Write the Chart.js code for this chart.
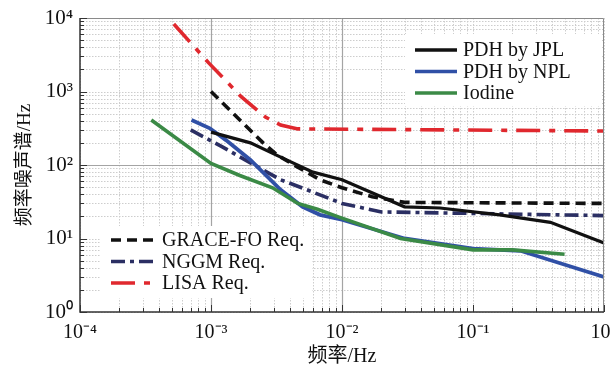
<!DOCTYPE html>
<html>
<head>
<meta charset="utf-8">
<script src="https://cdn.jsdelivr.net/npm/chart.js@4.4.0/dist/chart.umd.min.js"></script>
<style>
  html, body { margin: 0; padding: 0; background: #fff; }
  #wrap { width: 610px; height: 374px; }
</style>
</head>
<body>
<div id="wrap"><canvas id="grafico" width="610" height="374"></canvas></div>
<script>
// ===== Datos (frecuencia Hz / ruido Hz) =====
const xDecadas = [1e-4, 1e-3, 1e-2, 1e-1, 1];
const xEtiquetas = ['10⁻⁴', '10⁻³', '10⁻²', '10⁻¹', '10⁰'];
const yDecadas = [1, 10, 100, 1000, 10000];
const yEtiquetas = ['10⁰', '10¹', '10²', '10³', '10⁴'];

const jplFreq = [1e-3, 2e-3, 3.5e-3, 6e-3, 0.01, 0.03, 0.056, 0.16, 0.39, 1];
const jplRuido = [280, 200, 125, 80, 63, 27, 26, 21, 16.6, 8.7];

const nplFreq = [7.1e-4, 9.8e-4, 1.3e-3, 2e-3, 3.4e-3, 5e-3, 6.8e-3, 0.01, 0.03, 0.1, 0.23, 1];
const nplRuido = [410, 316, 218, 117, 46, 27, 21, 18, 10, 7.3, 6.8, 3.0];

const iodoFreq = [3.5e-4, 1e-3, 1.66e-3, 2.95e-3, 4.6e-3, 6.5e-3, 0.0095, 0.028, 0.1, 0.2, 0.5];
const iodoRuido = [410, 105, 72, 49, 30, 25, 19.5, 10, 7, 7, 6.1];

const graceFreq = [1e-3, 1.66e-3, 2.5e-3, 3.2e-3, 4.3e-3, 6.8e-3, 0.01, 0.017, 0.03, 1];
const graceRuido = [1000, 410, 200, 137, 100, 63, 49, 37, 31, 30];

const nggmFreq = [7e-4, 1.23e-3, 2e-3, 3.4e-3, 5.4e-3, 0.01, 0.02, 1];
const nggmRuido = [300, 175, 107, 63, 46, 30, 23, 20.5];

const lisaFreq = [5.2e-4, 9.6e-4, 1.7e-3, 2.6e-3, 3.4e-3, 4.6e-3, 1];
const lisaRuido = [8300, 2450, 850, 450, 350, 310, 290];

// Lineas de rejilla continuas (el resto punteadas)
const rejillaX = [1e-3, 1e-2];
const rejillaY = [100];

const puntos = (f, v) => f.map((x, i) => ({ x, y: v[i] }));

const serie = (label, f, v, color, dash, order, ancho) => ({
  label,
  data: puntos(f, v),
  borderColor: color,
  borderWidth: ancho,
  borderDash: dash,
  borderCapStyle: 'butt',
  pointRadius: 0,
  tension: 0,
  fill: false,
  order
});

const datasets = [
  serie('PDH by JPL', jplFreq, jplRuido, '#111111', [], 1, 3.2),
  serie('PDH by NPL', nplFreq, nplRuido, '#3050a6', [], 3, 3.8),
  serie('Iodine', iodoFreq, iodoRuido, '#3b8a46', [], 2, 3.6),
  serie('GRACE-FO Req.', graceFreq, graceRuido, '#111111', [10, 6], 4, 3.6),
  serie('NGGM Req.', nggmFreq, nggmRuido, '#2b2f63', [14, 5, 4, 5], 5, 3.6),
  serie('LISA Req.', lisaFreq, lisaRuido, '#e0282e', [24, 9, 6, 9], 6, 3.6)
];

// ticks 1..9 x 10^n entre las decadas
const ticksLog = decadas => {
  const t = [];
  decadas.forEach((d, i) => {
    if (i === decadas.length - 1) { t.push(d); return; }
    for (let m = 1; m < 10; m++) t.push(+(m * d).toPrecision(3));
  });
  return t;
};

const esDecada = (v, lista) => lista.some(d => Math.abs(v / d - 1) < 1e-6);

const leyendas = [
  { x: 415, y: 50, dy: 21.5, texto: 48, items: ['PDH by JPL', 'PDH by NPL', 'Iodine'], caja: [405, 34, 196, 72] },
  { x: 111, y: 240, dy: 21.5, texto: 51, items: ['GRACE-FO Req.', 'NGGM Req.', 'LISA Req.'], caja: [100, 226, 212, 72] }
];

const fuenteSerif = '"Liberation Serif", "Times New Roman", serif';
const fuenteTitulo = '"Liberation Serif", "Noto Sans CJK SC", serif';

const fondoPlugin = {
  id: 'fondo',
  beforeDatasetsDraw(chart) {
    const { ctx, chartArea: a, scales: { x, y } } = chart;
    ctx.save();
    ctx.lineWidth = 1;
    // rejilla menor punteada
    ctx.strokeStyle = '#cdcdcd';
    ctx.setLineDash([1.5, 1.5]);
    x.ticks.forEach(t => {
      if (esDecada(t.value, rejillaX)) return;
      const px = Math.round(x.getPixelForValue(t.value)) + 0.5;
      ctx.beginPath(); ctx.moveTo(px, a.top); ctx.lineTo(px, a.bottom); ctx.stroke();
    });
    y.ticks.forEach(t => {
      if (esDecada(t.value, rejillaY)) return;
      const py = Math.round(y.getPixelForValue(t.value)) + 0.5;
      ctx.beginPath(); ctx.moveTo(a.left, py); ctx.lineTo(a.right, py); ctx.stroke();
    });
    // rejilla principal
    ctx.setLineDash([]);
    ctx.strokeStyle = '#a4a4a4';
    ctx.lineWidth = 1.2;
    rejillaX.forEach(v => {
      const px = Math.round(x.getPixelForValue(v)) + 0.5;
      ctx.beginPath(); ctx.moveTo(px, a.top); ctx.lineTo(px, a.bottom); ctx.stroke();
    });
    rejillaY.forEach(v => {
      const py = Math.round(y.getPixelForValue(v)) + 0.5;
      ctx.beginPath(); ctx.moveTo(a.left, py); ctx.lineTo(a.right, py); ctx.stroke();
    });
    // fondo blanco de las leyendas
    ctx.fillStyle = '#fff';
    leyendas.forEach(l => ctx.fillRect(...l.caja));
    ctx.restore();
  },
  afterDatasetsDraw(chart) {
    const { ctx, chartArea: a, scales: { x, y } } = chart;
    ctx.save();
    // marco
    ctx.strokeStyle = '#8a8a8a';
    ctx.lineWidth = 1;
    ctx.beginPath();
    ctx.moveTo(a.left, a.top + 0.5); ctx.lineTo(a.right - 0.5, a.top + 0.5); ctx.lineTo(a.right - 0.5, a.bottom);
    ctx.stroke();
    ctx.strokeStyle = '#333';
    ctx.lineWidth = 1.5;
    ctx.beginPath();
    ctx.moveTo(a.left, a.top); ctx.lineTo(a.left, a.bottom); ctx.lineTo(a.right, a.bottom);
    ctx.stroke();
    // ticks hacia dentro
    ctx.lineWidth = 1;
    x.ticks.forEach(t => {
      const px = Math.round(x.getPixelForValue(t.value)) + 0.5;
      const len = esDecada(t.value, xDecadas) ? 7 : 4;
      ctx.beginPath(); ctx.moveTo(px, a.bottom); ctx.lineTo(px, a.bottom - len); ctx.stroke();
    });
    y.ticks.forEach(t => {
      const py = Math.round(y.getPixelForValue(t.value)) + 0.5;
      const len = esDecada(t.value, yDecadas) ? 7 : 4;
      ctx.beginPath(); ctx.moveTo(a.left, py); ctx.lineTo(a.left + len, py); ctx.stroke();
    });
    // leyendas
    ctx.font = '20px ' + fuenteSerif;
    ctx.textBaseline = 'middle';
    leyendas.forEach(l => {
      l.items.forEach((nombre, i) => {
        const ds = chart.data.datasets.find(d => d.label === nombre);
        const yy = l.y + i * l.dy;
        ctx.strokeStyle = ds.borderColor;
        ctx.lineWidth = 3.6;
        ctx.setLineDash(ds.borderDash);
        ctx.beginPath(); ctx.moveTo(l.x, yy); ctx.lineTo(l.x + 42, yy); ctx.stroke();
        ctx.setLineDash([]);
        ctx.fillStyle = '#111';
        ctx.fillText(nombre, l.x + l.texto, yy + 1);
      });
    });
    ctx.restore();
  }
};

const grafico = new Chart(document.getElementById('grafico'), {
  type: 'line',
  data: { datasets },
  options: {
    responsive: false,
    animation: false,
    layout: { padding: { top: 18, right: 6, left: 0, bottom: 0 } },
    plugins: { legend: { display: false }, tooltip: { enabled: false } },
    scales: {
      x: {
        type: 'logarithmic',
        min: 1e-4,
        max: 1,
        afterBuildTicks: axis => { axis.ticks = ticksLog(xDecadas).map(value => ({ value })); },
        afterFit: axis => { axis.height = 62; axis.paddingLeft = 0; axis.paddingRight = 0; },
        grid: { display: false, drawTicks: false },
        border: { display: false },
        ticks: {
          autoSkip: false, maxRotation: 0, minRotation: 0, padding: 9, color: '#111',
          font: { family: fuenteSerif, size: 20 },
          callback: value => {
            const i = xDecadas.findIndex(d => Math.abs(value / d - 1) < 1e-6);
            return i >= 0 ? xEtiquetas[i] : '';
          }
        },
        title: {
          display: true, text: '频率/Hz', color: '#111',
          font: { family: fuenteTitulo, size: 20 },
          padding: { top: 0, bottom: 5 }
        }
      },
      y: {
        type: 'logarithmic',
        min: 1,
        max: 10000,
        afterBuildTicks: axis => { axis.ticks = ticksLog(yDecadas).map(value => ({ value })); },
        afterFit: axis => { axis.width = 80; axis.paddingTop = 0; axis.paddingBottom = 0; },
        grid: { display: false, drawTicks: false },
        border: { display: false },
        ticks: {
          autoSkip: false, padding: 7, color: '#111',
          font: { family: fuenteSerif, size: 21 },
          callback: value => {
            const i = yDecadas.findIndex(d => Math.abs(value / d - 1) < 1e-6);
            return i >= 0 ? yEtiquetas[i] : '';
          }
        },
        title: {
          display: true, text: '频率噪声谱/Hz', color: '#111',
          font: { family: fuenteTitulo, size: 19 },
          padding: { top: 14, bottom: 0 }
        }
      }
    }
  },
  plugins: [fondoPlugin]
});
</script>
</body>
</html>
